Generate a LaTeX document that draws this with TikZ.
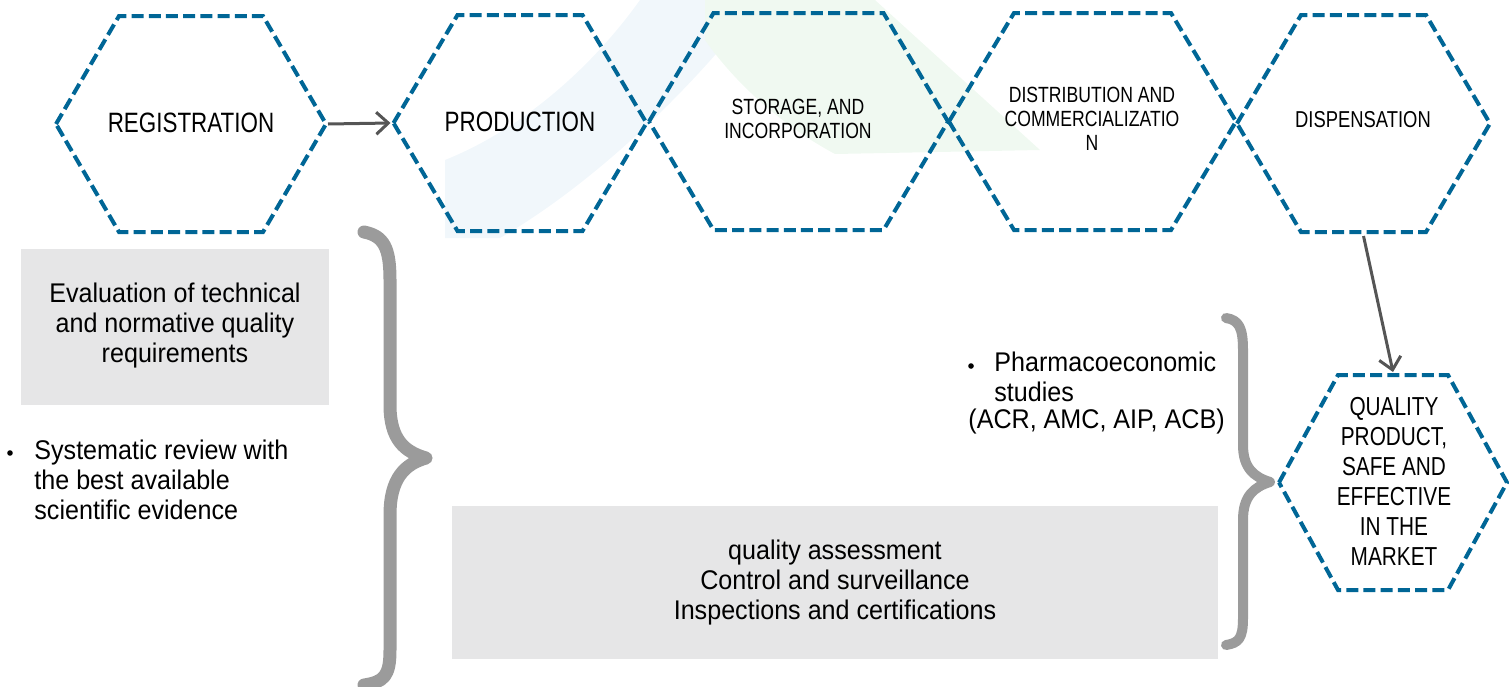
\documentclass[tikz,border=0pt]{standalone}
\usepackage{fontspec}
\setmainfont{Liberation Sans}[FakeStretch=0.93]
\newfontfamily\condf{Liberation Sans}[FakeStretch=0.8]
\usetikzlibrary{arrows.meta}
\definecolor{hexblue}{RGB}{0,102,150}
\definecolor{boxgray}{RGB}{230,230,231}
\definecolor{bracegray}{RGB}{155,155,155}
\definecolor{arrowgray}{RGB}{85,85,85}
\definecolor{wmblue}{RGB}{241,247,251}
\definecolor{wmgreen}{RGB}{240,249,241}
\tikzset{
  hexline/.style={draw=hexblue, line width=2pt, dash pattern=on 6pt off 2.6pt, line join=miter},
  hexlabel/.style={align=center, font=\condf\fontsize{11}{12}\selectfont, inner sep=0pt},
  biglabel/.style={align=center, font=\condf\fontsize{14}{16}\selectfont, inner sep=0pt},
  boxtext/.style={align=center, font=\fontsize{13.5}{15}\selectfont, inner sep=0pt},
  listtext/.style={align=left, font=\fontsize{13.5}{15}\selectfont, inner sep=0pt},
  graybox/.style={fill=boxgray, draw=none},
  bracestroke/.style={draw=bracegray, line cap=round, line join=round},
  flowarrow/.style={draw=arrowgray, line width=1.5pt, -{Straight Barb[length=6pt, width=11pt, line width=1.5pt]}},
}
\newcommand\hexshape[6]{% name, cx, cy, half width, half top width, half height
  \coordinate (#1-l) at (#2-#4,#3);
  \coordinate (#1-r) at (#2+#4,#3);
  \coordinate (#1-t) at (#2,#3-#6);
  \coordinate (#1-b) at (#2,#3+#6);
  \draw[hexline] (#2-#4,#3) -- (#2-#5,#3-#6) -- (#2+#5,#3-#6) -- (#2+#4,#3) -- (#2+#5,#3+#6) -- (#2-#5,#3+#6) -- cycle;
}
\begin{document}
\begin{tikzpicture}[x=0.5pt, y=-0.5pt]
\useasboundingbox (0,0) rectangle (1509,686);
% watermark
\fill[wmblue] (445,238) -- (445,160) .. controls (520,130) and (590,70) .. (640,0) -- (760,0) .. controls (700,80) and (600,180) .. (500,238) -- cycle;
\fill[wmgreen] (705,0) -- (875,0) -- (1040,150) -- (835,154) .. controls (790,130) and (740,90) .. (705,40) -- cycle;
% gray boxes
\path[graybox] (21,249) rectangle (329,405);
\path[graybox] (452,506) rectangle (1218,659);
% braces
\draw[bracestroke, line width=6.5pt] (364,232) .. controls (384,236) and (390,248) .. (390,280) -- (390,405) .. controls (390,440) and (405,452) .. (426,458) .. controls (405,464) and (390,478) .. (390,515) -- (390,650) .. controls (390,676) and (384,682) .. (364,685);
\draw[bracestroke, line width=5pt] (1226,318) .. controls (1239,320) and (1243,328) .. (1243,350) -- (1243,445) .. controls (1243,468) and (1254,477) .. (1270,482) .. controls (1254,487) and (1243,496) .. (1243,520) -- (1243,618) .. controls (1243,638) and (1239,643) .. (1226,645);
% hexagons
\hexshape{h1}{191}{124}{135}{72}{108}
\hexshape{h2}{520}{123}{126.5}{62.5}{108}
\hexshape{h3}{798.5}{121.5}{149.5}{85}{108.5}
\hexshape{h4}{1092.5}{121.5}{143.5}{78.5}{108.5}
\hexshape{h5}{1363.5}{123.5}{126.5}{62.5}{108.5}
\hexshape{h6}{1393}{482.5}{114}{55}{107.5}
% hexagon labels
\node[biglabel] (t1) at (191,123) {REGISTRATION};
\node[biglabel] (t2) at (520,122) {PRODUCTION};
\node[hexlabel] (t3) at (798,119) {STORAGE, AND\\INCORPORATION};
\node[hexlabel] (t4) at (1092,119) {DISTRIBUTION AND\\COMMERCIALIZATIO\\N};
\node[hexlabel, font=\condf\fontsize{11.5}{12}\selectfont] (t5) at (1363,120) {DISPENSATION};
\node[hexlabel, font=\condf\fontsize{13}{15}\selectfont] (t6) at (1394,481) {QUALITY\\PRODUCT,\\SAFE AND\\EFFECTIVE\\IN THE\\MARKET};
% box texts
\node[boxtext] (b1) at (175,326) {Evaluation of technical\\and normative quality\\requirements};
\node[boxtext] (b2) at (835,583) {quality assessment\\Control and surveillance\\Inspections and certifications};
% bullet lists
\node[listtext, anchor=west] (l1) at (34,480) {Systematic review with\\the best available\\scientific evidence};
\fill (10,453) circle (2.8);
\node[listtext, anchor=north west] (l2) at (994,352) {Pharmacoeconomic\\studies};
\fill (971,366) circle (2.8);
\node[listtext, anchor=north west] (l3) at (968,409) {(ACR, AMC, AIP, ACB)};
% arrows
\draw[flowarrow] ([xshift=1pt]h1-r) -- ([xshift=-1.5pt]h2-l);
\draw[flowarrow] ([yshift=-2pt]h5-b) -- ([yshift=1.5pt]h6-t);
\end{tikzpicture}
\end{document}
